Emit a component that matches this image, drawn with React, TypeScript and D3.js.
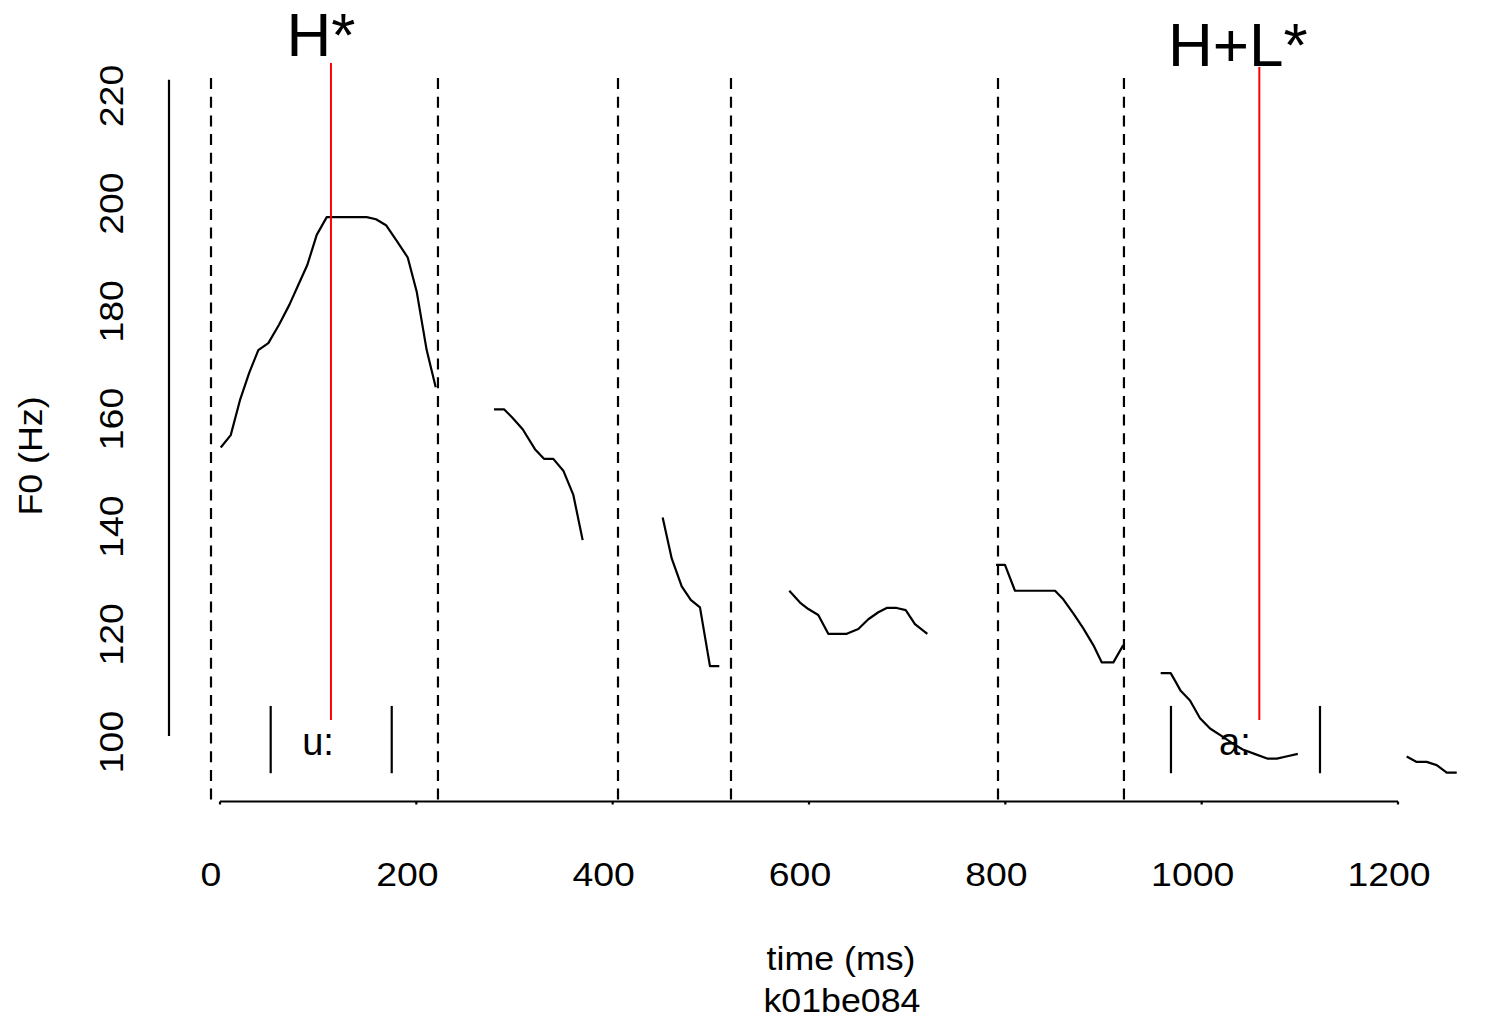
import React from "react";
import * as d3 from "d3";

const xTicks = [0, 200, 400, 600, 800, 1000, 1200];
const yTicks = [100, 120, 140, 160, 180, 200, 220];

// F0 contour pieces: [time (ms), F0 (Hz)]
const contour1: [number, number][] = [
  [9.9, 154.7], [20.1, 157.0], [29.5, 163.5], [39.0, 168.6], [48.2, 172.8], [58.4, 174.1],
  [69.3, 177.5], [79.8, 181.2], [88.9, 184.9], [98.1, 188.6], [107.7, 194.2], [117.9, 197.5],
  [158.6, 197.5], [168.1, 197.1], [178.3, 196.0], [189.2, 193.1], [200.4, 190.0], [209.5, 183.7],
  [219.7, 172.8], [228.9, 165.9],
];
const contour2: [number, number][] = [
  [288.3, 161.8], [298.5, 161.8], [307.3, 160.2], [317.5, 158.1], [330.0, 154.4], [339.2, 152.6],
  [348.7, 152.6], [358.9, 150.4], [369.1, 145.9], [378.6, 137.5],
];
const contour3: [number, number][] = [
  [460.1, 141.7], [469.3, 134.1], [479.5, 128.9], [488.7, 126.4], [498.1, 125.0], [508.3, 114.1],
  [517.8, 114.1],
];
const contour4: [number, number][] = [
  [589.1, 128.1], [600.0, 125.9], [608.5, 124.7], [618.6, 123.6], [628.8, 120.1], [647.6, 120.1],
  [659.4, 121.0], [669.6, 122.8], [679.8, 124.1], [688.3, 124.9], [698.5, 124.9], [707.7, 124.5],
  [717.1, 121.9], [729.7, 120.1],
];
const contour5: [number, number][] = [
  [799.7, 132.9], [808.8, 132.9], [819.0, 128.1], [859.8, 128.1], [868.2, 126.5], [878.4, 123.9],
  [888.6, 121.1], [898.8, 118.0], [907.3, 114.8], [919.2, 114.8], [929.3, 118.0],
];
const contour6: [number, number][] = [
  [967.4, 112.8], [977.6, 112.8], [982.0, 111.4], [987.8, 109.5], [997.3, 107.7], [1007.5, 104.4],
  [1017.7, 102.5], [1031.3, 100.9], [1041.0, 99.7], [1051.0, 98.6], [1063.0, 97.8], [1076.6, 96.9],
  [1085.7, 96.9], [1095.3, 97.3], [1107.1, 97.8],
];
const contour7: [number, number][] = [
  [1218.0, 97.3], [1228.2, 96.3], [1238.4, 96.3], [1248.6, 95.7], [1258.8, 94.3], [1269.0, 94.3],
];
const contours = [contour1, contour2, contour3, contour4, contour5, contour6, contour7];

// word / segment boundaries (ms)
const boundaries = [0, 231.2, 414.6, 529.7, 801.7, 930.0];
// vowel segment edges (ms)
const vowelEdges = [60.8, 184.1, 977.9, 1129.7];
const vowelLabels = ["u:", "a:"];
const vowelLabelTimes = [109, 1043];
// tone targets
const toneLabels = ["H*", "H+L*"];
const toneTimes = [122.2, 1067.9];
const toneTextTimes = [112, 1046];

const W = 1499;
const H = 1020;
const FONT = "'Liberation Sans', Arial, Helvetica, sans-serif";

function SText({ x, y, rot = 0, fs, sx = 1, anchor = "middle", fill = "#000", children }: any) {
  return (
    <g transform={`translate(${x},${y}) rotate(${rot}) scale(${sx},1)`}>
      <text x={0} y={0} fontSize={fs} fontFamily={FONT} textAnchor={anchor} fill={fill}>
        {children}
      </text>
    </g>
  );
}

export default function App() {
  const x = d3.scaleLinear().domain([0, 1200]).range([211, 1389]);
  const y = d3.scaleLinear().domain([100, 220]).range([742, 96]);
  const line = d3
    .line<[number, number]>()
    .x((d) => x(d[0]))
    .y((d) => y(d[1]));

  const axisOffset = 9; // axis line is drawn shifted right of the labels
  const axisY = 801.5;
  const toneTop = [63, 67];
  const toneTextY = [56, 66];
  const sw = 2.2;

  return (
    <svg
      width={W}
      height={H}
      style={{ position: "absolute", left: 0, top: 0, display: "block", background: "#fff" }}
    >
      <rect x={0} y={0} width={W} height={H} fill="#fff" />

      {/* y axis line */}
      <line x1={169} x2={169} y1={y(223)} y2={y(101.1)} stroke="#000" strokeWidth={sw} />
      {yTicks.map((v) => (
        <SText key={v} x={123} y={y(v)} rot={-90} fs={32.5} sx={1.15}>
          {v}
        </SText>
      ))}
      <SText x={42} y={456} rot={-90} fs={32.5} sx={1.1}>
        F0 (Hz)
      </SText>

      {/* x axis */}
      <line
        x1={x(0) + axisOffset}
        x2={x(1200) + axisOffset}
        y1={axisY}
        y2={axisY}
        stroke="#000"
        strokeWidth={sw}
      />
      {xTicks.map((t) => (
        <g key={t}>
          <line
            x1={x(t) + axisOffset}
            x2={x(t) + axisOffset}
            y1={axisY}
            y2={axisY + 3}
            stroke="#000"
            strokeWidth={sw}
          />
          <SText x={x(t)} y={886} fs={32.5} sx={1.15}>
            {t}
          </SText>
        </g>
      ))}
      <SText x={841} y={970} fs={32.5} sx={1.1}>
        time (ms)
      </SText>
      <SText x={842} y={1012} fs={32.5} sx={1.1}>
        k01be084
      </SText>

      {/* boundaries */}
      {boundaries.map((b, i) => (
        <line
          key={i}
          x1={x(b)}
          x2={x(b)}
          y1={78}
          y2={801}
          stroke="#000"
          strokeWidth={sw}
          strokeDasharray="11,7.7"
        />
      ))}

      {/* vowel segment bars */}
      {vowelEdges.map((t, i) => (
        <line key={i} x1={x(t)} x2={x(t)} y1={y(106.7)} y2={y(94.2)} stroke="#000" strokeWidth={sw} />
      ))}
      {vowelLabels.map((l, i) => (
        <SText key={l} x={x(vowelLabelTimes[i])} y={755} fs={38}>
          {l}
        </SText>
      ))}

      {/* contours */}
      {contours.map((c, i) => (
        <path key={i} d={line(c) || ""} fill="none" stroke="#000" strokeWidth={sw} strokeLinejoin="round" />
      ))}

      {/* tone targets */}
      {toneTimes.map((t, i) => (
        <g key={i}>
          <line x1={x(t)} x2={x(t)} y1={toneTop[i]} y2={y(104.1)} stroke="#ff0000" strokeWidth={2} />
          <SText x={x(toneTextTimes[i])} y={toneTextY[i]} fs={62}>
            {toneLabels[i]}
          </SText>
        </g>
      ))}
    </svg>
  );
}
